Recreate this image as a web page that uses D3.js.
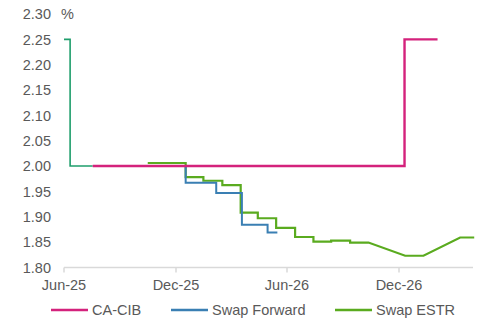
<!DOCTYPE html>
<html><head><meta charset="utf-8">
<script src="https://cdn.jsdelivr.net/npm/d3@7"></script>
<style>body{margin:0;background:#fff}svg{display:block}text{font-family:"Liberation Sans",Arial,sans-serif;fill:#595959}</style>
</head><body><svg id="c" width="490" height="324"></svg>
<script>
const yTicks = [1.80,1.85,1.90,1.95,2.00,2.05,2.10,2.15,2.20,2.25,2.30];
const xTickDates = ["2025-06-01","2025-12-01","2026-06-01","2026-12-01"];
const xTickLabels = ["Jun-25","Dec-25","Jun-26","Dec-26"];

const histDates = ["2025-06-01","2025-06-11","2025-07-18"];
const histValues = [2.25,2.00,2.00];

const caDates = ["2025-07-18","2026-12-10","2027-02-02"];
const caValues = [2.00,2.25,2.25];

const fwdDates = ["2025-10-30","2025-12-17","2026-02-05","2026-03-19","2026-04-30","2026-05-16"];
const fwdValues = [2.00,1.967,1.947,1.884,1.869,1.869];

const estrDates = ["2025-10-16","2025-12-17","2025-12-17","2026-01-15","2026-01-15","2026-02-15","2026-02-15","2026-03-17","2026-03-17","2026-04-14","2026-04-14","2026-05-14","2026-05-14","2026-06-14","2026-06-14","2026-07-14","2026-07-14","2026-08-12","2026-08-12","2026-09-12","2026-09-12","2026-10-12","2026-12-11","2027-01-10","2027-03-11","2027-04-03"];
const estrValues = [2.006,2.006,1.978,1.978,1.971,1.971,1.9625,1.9625,1.908,1.908,1.897,1.897,1.878,1.878,1.860,1.860,1.851,1.851,1.853,1.853,1.849,1.849,1.823,1.823,1.859,1.859];

const legendNames = ["CA-CIB","Swap Forward","Swap ESTR"];
const colors = {hist:"#1f9e6c", ca:"#d4227c", fwd:"#3a7fb3", estr:"#5aab1f"};

const P = d => { const [y,m,dd] = d.split("-").map(Number); return new Date(Date.UTC(y,m-1,dd)); };
const svg = d3.select("#c");
const x = d3.scaleUtc().domain([P("2025-06-01"), P("2027-04-01")]).range([64, 473]);
const y = d3.scaleLinear().domain([1.80, 2.30]).range([267.4, 14]);

// x axis
svg.append("line").attr("x1",x.range()[0]).attr("x2",x.range()[1]).attr("y1",y(1.80)).attr("y2",y(1.80))
  .attr("stroke","#d9d9d9").attr("stroke-width",1.5);
xTickDates.forEach((d,i)=>{
  const xx = Math.round(x(P(d)));
  svg.append("line").attr("x1",xx).attr("x2",xx).attr("y1",y(1.80)).attr("y2",y(1.80)+5).attr("stroke","#d9d9d9").attr("stroke-width",1.5);
  svg.append("text").attr("x",xx).attr("y",290).attr("text-anchor","middle").attr("font-size","14.5px").text(xTickLabels[i]);
});
// y labels
yTicks.forEach(v=>{
  svg.append("text").attr("x",51).attr("y",y(v)).attr("dy","0.36em").attr("text-anchor","end").attr("font-size","14.5px").text(v.toFixed(2));
});
svg.append("text").attr("x",61).attr("y",y(2.30)).attr("dy","0.36em").attr("font-size","14.5px").text("%");

function draw(dates, vals, color, curve, w){
  const data = dates.map((d,i)=>({d:P(d), v:vals[i]}));
  svg.append("path").datum(data).attr("fill","none").attr("stroke",color).attr("stroke-width",w)
    .attr("d", d3.line().x(p=>x(p.d)).y(p=>y(p.v)).curve(curve));
}
draw(histDates, histValues, colors.hist, d3.curveStepAfter, 1.6);
draw(estrDates, estrValues, colors.estr, d3.curveLinear, 2.2);
draw(fwdDates, fwdValues, colors.fwd, d3.curveStepAfter, 2);
draw(caDates, caValues, colors.ca, d3.curveStepAfter, 2.4);

// legend
const legX = [51, 171, 335];
const legC = [colors.ca, colors.fwd, colors.estr];
legendNames.forEach((n,i)=>{
  svg.append("line").attr("x1",legX[i]).attr("x2",legX[i]+37).attr("y1",310).attr("y2",310).attr("stroke",legC[i]).attr("stroke-width",2.4);
  svg.append("text").attr("x",legX[i]+41).attr("y",310).attr("dy","0.36em").attr("font-size","14.5px").text(n);
});
</script></body></html>
